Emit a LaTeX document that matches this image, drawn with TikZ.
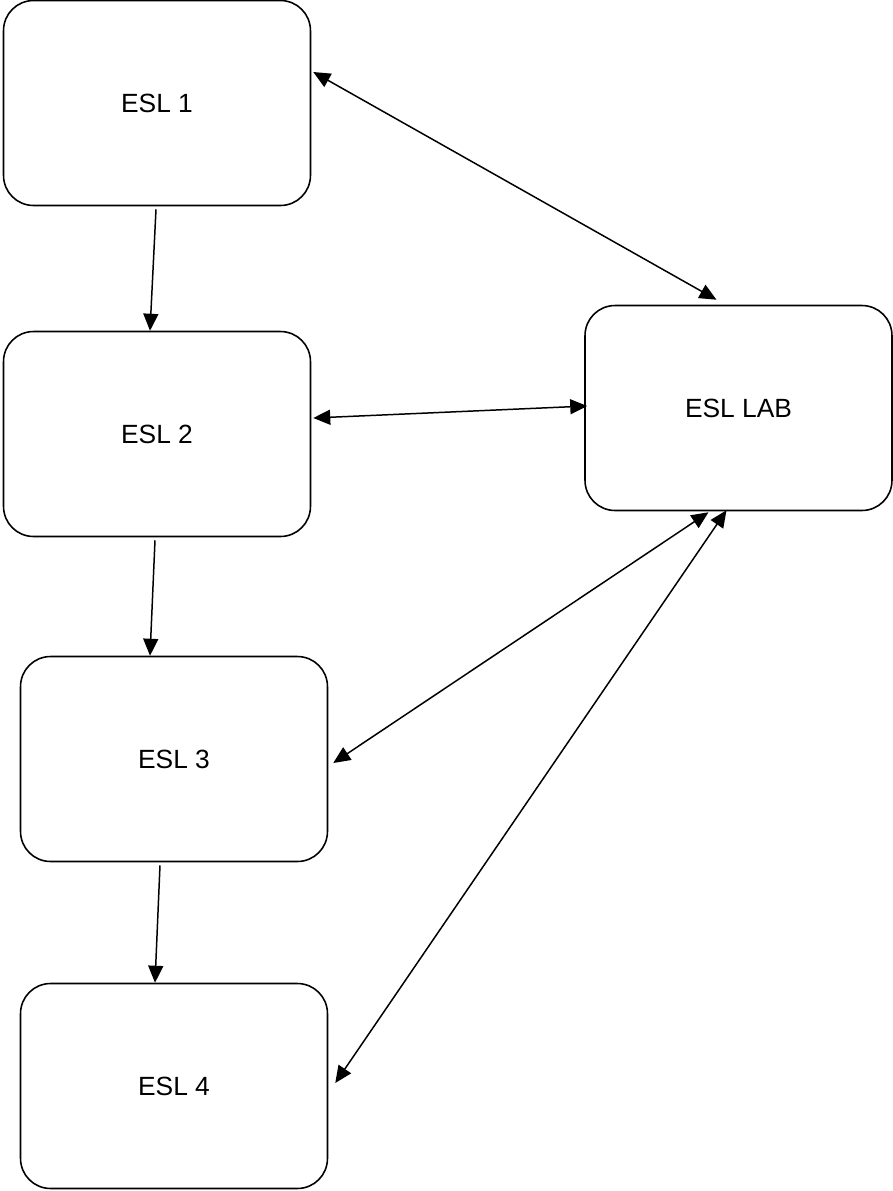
\documentclass[tikz,border=0pt]{standalone}
\usepackage{fontspec}
\setmainfont{Liberation Sans}
\usetikzlibrary{arrows.meta}
\tikzstyle{course}=[
	rectangle,
	draw=black,
	line width=0.9pt,
	rounded corners=0.6cm,
	minimum width=6.14cm,
	minimum height=4.1cm,
	font=\fontsize{15}{18}\selectfont
]
\tikzstyle{prereq}=[
	-{Triangle[length=0.34cm,width=0.3cm]},
	line width=0.85pt
]
\tikzstyle{shared}=[
	{Triangle[length=0.34cm,width=0.3cm]}-{Triangle[length=0.34cm,width=0.3cm]},
	line width=0.85pt
]

\begin{document}
\begin{tikzpicture}[x=0.02cm,y=-0.02cm]
\useasboundingbox (0,0) rectangle (893,1191);
\node [course] (ESL1) at (157,103) {ESL 1};
\node [course] (ESL2) at (157,434) {ESL 2};
\node [course] (ESL3) at (174,759) {ESL 3};
\node [course] (ESL4) at (174,1086) {ESL 4};
\node [course] (ESLLAB) at (738.5,408) {ESL LAB};
% down the sequence
\draw [prereq] ([shift={(-1,3)}]ESL1.south) -- ([shift={(-7,0)}]ESL2.north);
\draw [prereq] ([shift={(-2,3)}]ESL2.south) -- ([shift={(-24,0)}]ESL3.north);
\draw [prereq] ([shift={(-14,3)}]ESL3.south) -- ([shift={(-19,0)}]ESL4.north);
% lab links
\draw [shared] ([shift={(2,-31)}]ESL1.east) -- ([shift={(-22,-5)}]ESLLAB.north);
\draw [shared] ([shift={(2,-16)}]ESL2.east) -- ([shift={(3,-2)}]ESLLAB.west);
\draw [shared] ([shift={(5,4)}]ESL3.east) -- ([shift={(-30,1)}]ESLLAB.south);
\draw [shared] ([shift={(7,-3)}]ESL4.east) -- ([shift={(-12,-1)}]ESLLAB.south);
\end{tikzpicture}
\end{document}
